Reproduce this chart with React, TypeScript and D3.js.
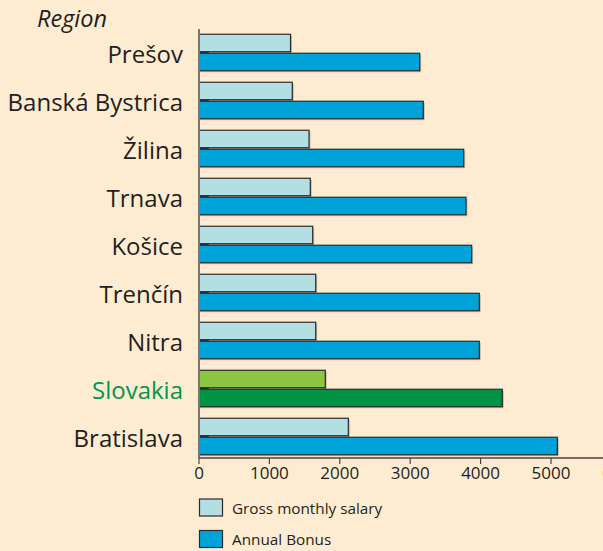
import React from "react";
import * as d3 from "d3";

const regions = ["Prešov", "Banská Bystrica", "Žilina", "Trnava", "Košice", "Trenčín", "Nitra", "Slovakia", "Bratislava"];
const grossMonthlySalary = [1300, 1325, 1563, 1581, 1615, 1658, 1658, 1794, 2121];
const annualBonus = [3135, 3186, 3760, 3793, 3873, 3982, 3982, 4308, 5090];
const xTicks = [0, 1000, 2000, 3000, 4000, 5000, 6000];
const seriesNames = ["Gross monthly salary", "Annual Bonus"];

const W = 603;
const H = 551;
const FONT = "'Open Sans', 'Noto Sans', sans-serif";
const TEXT = "#231f20";

export default function App() {
  const x = d3.scaleLinear().domain([0, 6000]).range([199, 621.4]);
  const y = d3.scaleBand<string>().domain(regions).range([28.5, 460.5]).paddingInner(0.24).paddingOuter(0.12);
  const inner = d3.scaleBand<string>().domain(["s", "b"]).range([0, y.bandwidth()]).paddingInner(0.08);
  const axisY = 458;

  const colors = (r: string) =>
    r === "Slovakia" ? { s: "#8dc63f", b: "#009245" } : { s: "#b3dfe3", b: "#00a3d9" };

  return (
    <svg width={W} height={H} style={{ position: "absolute", left: 0, top: 0, background: "#feecd2" }}>
      <rect x={0} y={0} width={W} height={H} fill="#feecd2" />
      <text x={37} y={27} fontFamily={FONT} fontStyle="italic" fontSize={23.5} fill={TEXT}>Region</text>
      {regions.map((r, i) => {
        const top = y(r)!;
        const c = colors(r);
        const bars = [
          { k: "s", v: grossMonthlySalary[i], fill: c.s },
          { k: "b", v: annualBonus[i], fill: c.b },
        ];
        return (
          <g key={r}>
            {bars.map((b) => {
              const by = top + inner(b.k)!;
              const w = x(b.v) - x(0);
              return (
                <g key={b.k}>
                  <rect x={x(0) + 1.5} y={by + 1.5} width={w} height={inner.bandwidth()} fill="#9c9285" opacity={0.55} />
                  <rect x={x(0)} y={by} width={w} height={inner.bandwidth()} fill={b.fill} stroke="#2b2b2b" strokeWidth={1.2} />
                </g>
              );
            })}
            <line x1={x(0)} x2={x(0) + 10} y1={top + inner("b")! - 0.8} y2={top + inner("b")! - 0.8} stroke="#2b2b2b" strokeWidth={1.6} />
            <text
              x={183}
              y={top + y.bandwidth() / 2 + 10.5}
              textAnchor="end"
              fontFamily={FONT}
              fontSize={24}
              fill={r === "Slovakia" ? "#00964b" : TEXT}
            >
              {r}
            </text>
          </g>
        );
      })}
      <line x1={x(0)} x2={x(0)} y1={29} y2={axisY} stroke="#7d7468" strokeWidth={2} />
      <line x1={x(0)} x2={W} y1={axisY} y2={axisY} stroke="#4a4540" strokeWidth={1.5} />
      {xTicks.map((t) => (
        <g key={t}>
          <line x1={x(t)} x2={x(t)} y1={axisY} y2={axisY + 6} stroke="#4a4540" strokeWidth={1.2} />
          <text x={x(t)} y={479} textAnchor="middle" fontFamily={FONT} fontSize={17} fill={TEXT}>{t}</text>
        </g>
      ))}
      {seriesNames.map((s, i) => (
        <g key={s}>
          <rect x={199.5} y={499 + i * 31.5} width={23} height={17} fill={i === 0 ? "#b3dfe3" : "#00a3d9"} stroke="#2b2b2b" strokeWidth={1.2} />
          <text x={232} y={514 + i * 31} fontFamily={FONT} fontSize={15.3} fill={TEXT}>{s}</text>
        </g>
      ))}
    </svg>
  );
}
